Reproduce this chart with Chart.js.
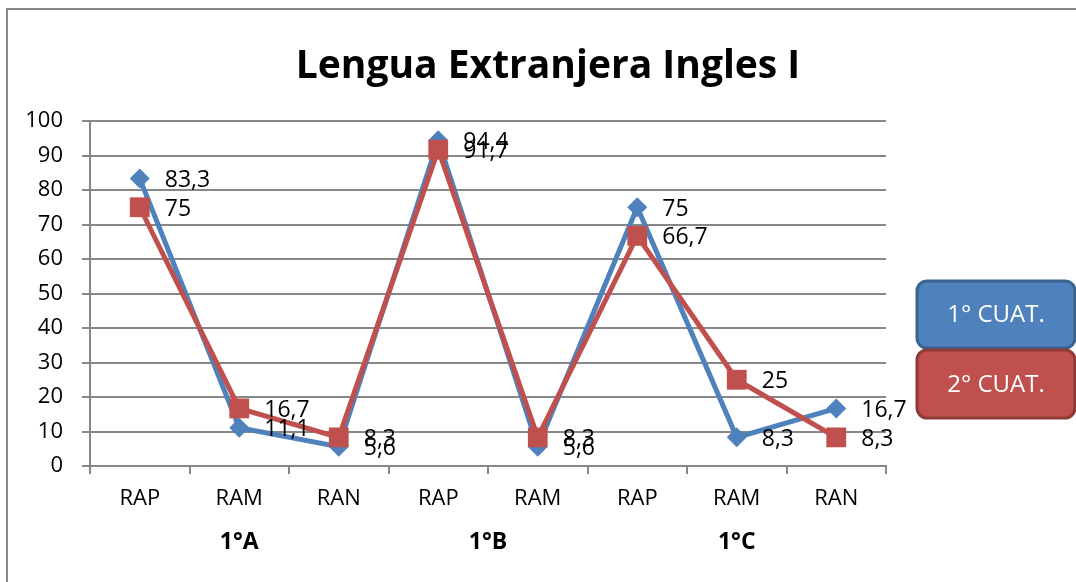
<!DOCTYPE html>
<html>
<head>
<meta charset="utf-8">
<script src="https://cdn.jsdelivr.net/npm/chart.js@4/dist/chart.umd.min.js"></script>
<style>
  html, body { margin: 0; padding: 0; background: #fff; }
  #wrap { position: relative; width: 1076px; height: 582px; overflow: hidden; }
  #frame {
    position: absolute; left: 6px; top: 8px; width: 1200px; height: 700px;
    border-left: 2px solid #898989; border-top: 2px solid #898989;
  }
  #chart { position: absolute; left: 0; top: 0; }
</style>
</head>
<body>
<div id="wrap">
  <div id="frame"></div>
  <canvas id="chart" width="1076" height="582"></canvas>
</div>
<script>
  // Data
  const title = "Lengua Extranjera Ingles I";
  const categories = ["RAP", "RAM", "RAN", "RAP", "RAM", "RAP", "RAM", "RAN"];
  const groups = ["1°A", "1°B", "1°C"];
  const groupSpans = [[0, 2], [3, 4], [5, 7]];
  const cuat1 = [83.3, 11.1, 5.6, 94.4, 5.6, 75, 8.3, 16.7];
  const cuat2 = [75, 16.7, 8.3, 91.7, 8.3, 66.7, 25, 8.3];
  const seriesNames = ["1° CUAT.", "2° CUAT."];
  const yTicks = { min: 0, max: 100, step: 10 };

  const FONT = "'Open Sans', 'Liberation Sans', sans-serif";
  const BLUE = "#4f81bd";
  const RED = "#c0504d";
  const GRID = "#878787";

  const fmt = (v) => String(v).replace(".", ",");

  // Title, group labels, value labels and the boxed legend
  const extras = {
    id: "extras",
    afterDatasetsDraw(chart) {
      const ctx = chart.ctx;
      const x = chart.scales.x;
      ctx.save();

      // value labels, to the right of each point
      ctx.font = "23px " + FONT;
      ctx.fillStyle = "#000";
      ctx.textAlign = "left";
      ctx.textBaseline = "middle";
      chart.data.datasets.forEach((ds, i) => {
        const meta = chart.getDatasetMeta(i);
        meta.data.forEach((pt, j) => {
          ctx.fillText(fmt(ds.data[j]), pt.x + 25, pt.y + 2);
        });
      });

      // group labels under the categories
      ctx.font = "bold 23px " + FONT;
      ctx.textAlign = "center";
      groups.forEach((g, i) => {
        const [a, b] = groupSpans[i];
        const cx = (x.getPixelForValue(a) + x.getPixelForValue(b)) / 2;
        ctx.fillText(g, cx, 542);
      });

      // title
      ctx.font = "bold 39px " + FONT;
      ctx.textBaseline = "alphabetic";
      ctx.fillText(title, 548, 78);

      // legend boxes
      const boxes = [
        { y: 281, h: 67, fill: BLUE, stroke: "#3a6592" },
        { y: 350, h: 68, fill: RED, stroke: "#8e3a37" },
      ];
      ctx.font = "24px " + FONT;
      ctx.textBaseline = "middle";
      boxes.forEach((b, i) => {
        ctx.beginPath();
        ctx.roundRect(917, b.y, 158, b.h, 10);
        ctx.fillStyle = b.fill;
        ctx.fill();
        ctx.lineWidth = 3;
        ctx.strokeStyle = b.stroke;
        ctx.stroke();
        ctx.fillStyle = "#fff";
        ctx.fillText(seriesNames[i], 996, b.y + b.h / 2 + 1);
      });

      ctx.restore();
    },
  };

  new Chart(document.getElementById("chart"), {
    type: "line",
    data: {
      labels: categories,
      datasets: [
        {
          label: seriesNames[0],
          data: cuat1,
          borderColor: BLUE,
          backgroundColor: BLUE,
          borderWidth: 5,
          pointStyle: "rectRot",
          pointRadius: 10,
          pointBorderWidth: 0,
          tension: 0,
          order: 2,
        },
        {
          label: seriesNames[1],
          data: cuat2,
          borderColor: RED,
          backgroundColor: RED,
          borderWidth: 5,
          pointStyle: "rect",
          pointRadius: 14,
          pointBorderWidth: 0,
          tension: 0,
          order: 1,
        },
      ],
    },
    options: {
      responsive: false,
      animation: false,
      layout: { padding: { top: 121, right: 190, left: 0, bottom: 0 } },
      plugins: {
        legend: { display: false },
        tooltip: { enabled: false },
        title: { display: false },
      },
      scales: {
        x: {
          offset: true,
          grid: {
            offset: true,
            drawOnChartArea: false,
            drawTicks: true,
            tickLength: 8,
            color: GRID,
            lineWidth: 2,
          },
          border: { color: GRID, width: 2 },
          ticks: { color: "#000", font: { family: FONT, size: 22 }, padding: 12, maxRotation: 0 },
          afterFit: (s) => { s.height = 116; },
        },
        y: {
          min: yTicks.min,
          max: yTicks.max,
          grid: { color: GRID, lineWidth: 2, tickLength: 8 },
          border: { color: GRID, width: 2 },
          ticks: { stepSize: yTicks.step, color: "#000", font: { family: FONT, size: 22 }, padding: 19 },
          afterFit: (s) => { s.width = 90; },
        },
      },
    },
    plugins: [extras],
  });
</script>
</body>
</html>
